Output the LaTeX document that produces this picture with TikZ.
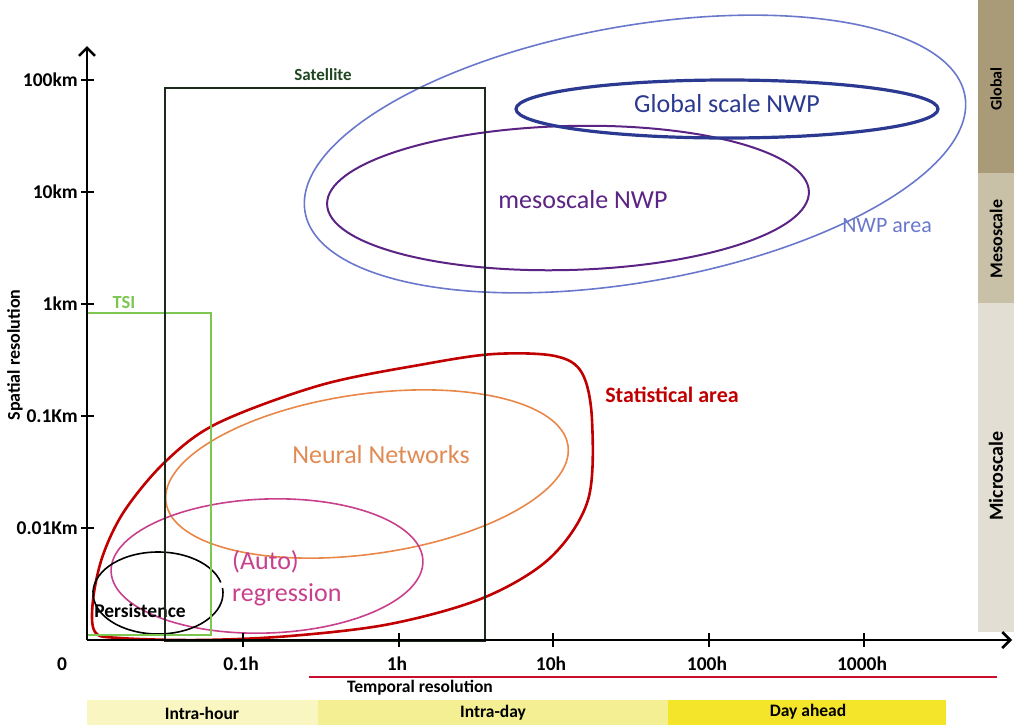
\documentclass[tikz,border=0pt]{standalone}
\usepackage{fontspec}
\setmainfont{Carlito}
\usetikzlibrary{arrows.meta}
\definecolor{satcol}{HTML}{1B2A1B}
\definecolor{sattext}{HTML}{1E4620}
\definecolor{tsicol}{HTML}{7DC652}
\definecolor{nwpcol}{HTML}{6A78CC}
\definecolor{globcol}{HTML}{2B3990}
\definecolor{mesocol}{HTML}{5B2384}
\definecolor{statcol}{HTML}{C00000}
\definecolor{nncol}{HTML}{E9874A}
\definecolor{nntext}{HTML}{E08B55}
\definecolor{arcol}{HTML}{C8408C}
\definecolor{redline}{HTML}{C8102E}
\definecolor{bandA}{HTML}{FAF6C2}
\definecolor{bandB}{HTML}{F5EF94}
\definecolor{bandC}{HTML}{F5E52A}
\definecolor{scaleA}{HTML}{A99A78}
\definecolor{scaleB}{HTML}{C9C0A8}
\definecolor{scaleC}{HTML}{E2DED3}
\begin{document}
\begin{tikzpicture}[x=1pt,y=-1pt,
  every node/.style={inner sep=0pt},
  lbl/.style={font=\fontsize{17.5}{20}\selectfont\bfseries},
  ticklbl/.style={font=\fontsize{19.5}{22}\selectfont\bfseries},
  big/.style={font=\fontsize{26}{30}\selectfont},
  axisline/.style={line width=2.5pt,black},
  tick/.style={line width=2pt,black},
  tip/.style={-{Straight Barb[length=8pt,width=16pt,line width=2.5pt]}}]
\useasboundingbox (0,0) rectangle (1014,726);
% right scale bands
\fill[scaleA] (978,0) rectangle (1014,173);
\fill[scaleB] (978,173) rectangle (1014,303);
\fill[scaleC] (978,303) rectangle (1014,632);
\node[rotate=90,font=\fontsize{16}{18}\selectfont\bfseries] (gl) at (996,89) {Global};
\node[rotate=90,font=\fontsize{18}{20}\selectfont\bfseries] (ms) at (996,239) {Mesoscale};
\node[rotate=90,font=\fontsize{20}{22}\selectfont\bfseries] (mc) at (996,476) {Microscale};
% bottom bands
\fill[bandA] (87,700) rectangle (318,725);
\fill[bandB] (318,700) rectangle (668,725);
\fill[bandC] (668,700) rectangle (946,725);
\node[lbl] (ih) at (202,713) {Intra-hour};
\node[lbl] (id) at (493,713) {Intra-day};
\node[lbl] (da) at (808,712) {Day ahead};
% NWP ellipses
\draw[nwpcol,line width=1.6pt,rotate around={10:(635,154)}] (635,154) ellipse [x radius=335pt,y radius=128pt];
\draw[mesocol,line width=2pt,rotate around={1.5:(568,198)}] (568,198) ellipse [x radius=241pt,y radius=72pt];
\draw[globcol,line width=3.2pt] (727,109) ellipse [x radius=211pt,y radius=29pt];
\node[big,text=globcol] (gnwp) at (727,104) {Global scale NWP};
\node[big,text=mesocol] (mnwp) at (583,200) {mesoscale NWP};
\node[text=nwpcol,font=\fontsize{22}{26}\selectfont] (nwpa) at (887,226) {NWP area};
% statistical area
\draw[statcol,line width=2.6pt] plot[smooth cycle,tension=0.55] coordinates {
 (95,632) (93,600) (103,555) (125,510) (166,461) (218,423) (321,385) (425,364)
 (494,354) (555,356) (582,373) (592,420) (588,500) (550,558) (483,598) (390,624)
 (290,636) (200,640) (120,638)};
\node[text=statcol,font=\fontsize{22}{26}\selectfont\bfseries] (stat) at (672,395) {Statistical area};
\draw[nncol,line width=1.6pt,rotate around={8:(367,474)}] (367,474) ellipse [x radius=203pt,y radius=80pt];
\node[big,text=nntext] (nn) at (381,455) {Neural Networks};
\draw[arcol,line width=1.6pt,rotate around={2:(267,566)}] (267,566) ellipse [x radius=156pt,y radius=67pt];
\node[big,text=arcol,anchor=west] (ar1) at (232,562) {(Auto)};
\node[big,text=arcol,anchor=west] (ar2) at (232,595) {regression};
\draw[black,line width=1.6pt] (158,593) ++(15:65pt and 41pt) arc[start angle=15,end angle=367,x radius=65pt,y radius=41pt];
\node[font=\fontsize{19.5}{22}\selectfont\bfseries] (pers) at (140,611) {Persistence};
% boxes
\draw[tsicol,line width=2.2pt] (87,313) rectangle (211,635);
\node[text=tsicol,font=\fontsize{18.5}{21}\selectfont\bfseries] (tsi) at (124,302) {TSI};
\draw[satcol,line width=2.3pt] (165,88) rectangle (485,641);
\node[text=sattext,font=\fontsize{17}{19}\selectfont\bfseries] (sat) at (323,75) {Satellite};
% axes
\coordinate (o) at (87,640);
\coordinate (ytip) at (87,46);
\coordinate (xtip) at (1012,640);
\draw[axisline,tip] (o) -- (ytip);
\draw[axisline,tip] (o) -- (xtip);
\foreach \y/\t in {80/100km,192/10km,304/1km,416/0.1Km,528/0.01Km}{
  \draw[tick] (81,\y) -- (94,\y);
  \node[ticklbl,anchor=east] at (78,\y) {\t};
}
\foreach \x/\t in {243/0.1h,399/1h,553/10h,709/100h,864/1000h}{
  \draw[tick] (\x,633) -- (\x,647);
  \node[ticklbl] at (\x-2,664) {\t};
}
\node[ticklbl] (zero) at (62,664) {0};
\node[rotate=90,font=\fontsize{18}{20}\selectfont\bfseries] (sr) at (15,355) {Spatial resolution};
\draw[redline,line width=2.5pt] (309,677) -- (997,677);
\node[lbl] (tr) at (420,688) {Temporal resolution};
\end{tikzpicture}
\end{document}
